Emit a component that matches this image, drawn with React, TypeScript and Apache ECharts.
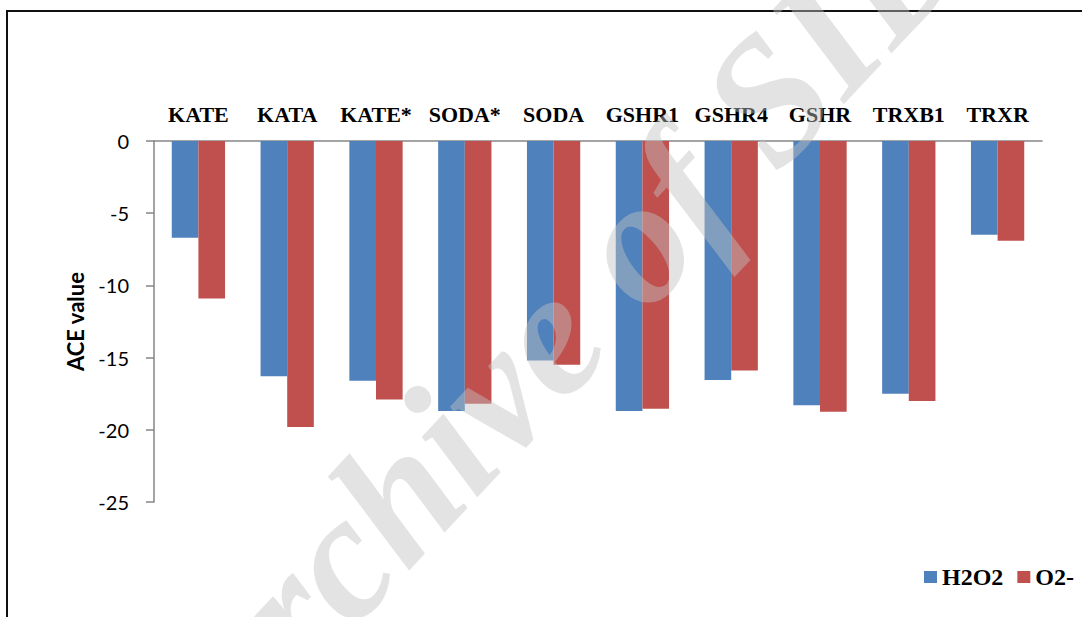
import React, { useEffect, useRef } from "react";
import * as echarts from "echarts";

const categories = ["KATE", "KATA", "KATE*", "SODA*", "SODA", "GSHR1", "GSHR4", "GSHR", "TRXB1", "TRXR"];
const h2o2Values = [-6.7, -16.3, -16.6, -18.7, -15.2, -18.7, -16.55, -18.3, -17.5, -6.5];
const o2Values = [-10.9, -19.8, -17.9, -18.2, -15.5, -18.55, -15.9, -18.75, -18.0, -6.9];
const seriesNames = ["H2O2", "O2-"];
const yTicks = { min: -25, max: 0, interval: 5 };

export default function App() {
  const ref = useRef<HTMLDivElement>(null);
  useEffect(() => {
    if (!ref.current) return;
    const chart = echarts.init(ref.current, null, { renderer: "svg" });
    chart.setOption({
      animation: false,
      backgroundColor: "#ffffff",
      grid: { left: 154, top: 141, width: 888, height: 361, containLabel: false },
      xAxis: {
        type: "category",
        position: "top",
        data: categories,
        axisLine: { show: true, onZero: false, lineStyle: { color: "#868686", width: 1.5 } },
        axisTick: { show: false },
        axisLabel: {
          interval: 0,
          margin: 16,
          color: "#000",
          fontFamily: "Liberation Serif",
          fontWeight: "bold",
          fontSize: 22,
        },
        splitLine: { show: false },
      },
      yAxis: {
        type: "value",
        min: yTicks.min,
        max: yTicks.max,
        interval: yTicks.interval,
        name: "ACE value",
        nameLocation: "middle",
        nameRotate: 90,
        nameGap: 68,
        nameTextStyle: { color: "#000", fontFamily: "Lato", fontWeight: "bold", fontSize: 22 },
        axisLine: { show: true, lineStyle: { color: "#868686", width: 1.5 } },
        axisTick: { show: true, length: 8, lineStyle: { color: "#868686", width: 1.5 } },
        axisLabel: { margin: 25, color: "#000", fontFamily: "Lato", fontSize: 20 },
        splitLine: { show: false },
      },
      legend: {
        data: seriesNames,
        left: 924,
        top: 565,
        width: 300,
        padding: 0,
        itemWidth: 13,
        itemHeight: 12,
        itemGap: 14,
        icon: "rect",
        textStyle: { color: "#000", fontFamily: "Liberation Serif", fontWeight: "bold", fontSize: 24 },
      },
      series: [
        {
          name: seriesNames[0],
          type: "bar",
          data: h2o2Values,
          itemStyle: { color: "#4f81bd" },
          barGap: "0%",
          barCategoryGap: "40%",
        },
        {
          name: seriesNames[1],
          type: "bar",
          data: o2Values,
          itemStyle: { color: "#c0504d" },
          barGap: "0%",
          barCategoryGap: "40%",
        },
      ],
      graphic: [
        {
          type: "rect",
          z: 50,
          shape: { x: 7, y: 11, width: 1300, height: 800 },
          style: { fill: "none", stroke: "#111", lineWidth: 2 },
        },
        {
          type: "text",
          z: 100,
          x: 558,
          y: 322,
          rotation: (47 * Math.PI) / 180,
          style: {
            text: "Archive of SID",
            fontFamily: "Liberation Serif",
            fontStyle: "italic",
            fontWeight: "bold",
            fontSize: 178,
            fill: "rgba(192,192,192,0.45)",
            align: "center",
            verticalAlign: "middle",
          },
        },
      ],
    });
    return () => chart.dispose();
  }, []);
  return <div ref={ref} style={{ position: "fixed", left: 0, top: 0, width: 1082, height: 617 }} />;
}
